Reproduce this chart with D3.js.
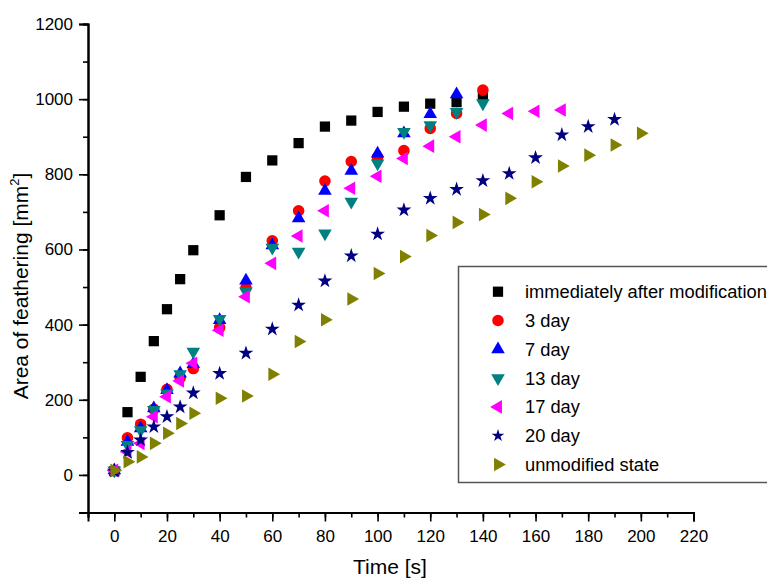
<!DOCTYPE html>
<html><head><meta charset="utf-8">
<script src="https://cdn.jsdelivr.net/npm/d3@7"></script>
<style>body{margin:0;background:#fff;} svg{display:block;font-family:"Liberation Sans",Arial,sans-serif;}</style>
</head><body>
<svg id="c" width="767" height="580"></svg>
<script>
// ---- data ----
const seriesNames = ["immediately after modification","3 day","7 day","13 day","17 day","20 day","unmodified state"];
const timesImmediate = [0,5,10,15,20,25,30,40,50,60,70,80,90,100,110,120,130,140];
const valuesImmediate = [10,167,261,356,441,521,598,691,793,837,883,927,943,966,980,988,992,1008];
const times3 = [0,5,10,15,20,25,30,40,50,60,70,80,90,100,110,120,130,140];
const values3 = [12,99,135,175,228,258,283,392,498,623,703,782,834,845,863,922,962,1024];
const times7 = [0,5,10,15,20,25,30,40,50,60,70,80,90,100,110,120,130];
const values7 = [12,88,124,177,226,270,295,412,517,611,683,756,809,855,909,960,1013];
const times13 = [0,5,10,15,20,25,30,40,50,60,70,80,90,100,110,120,130,140];
const values13 = [12,80,119,173,217,268,328,415,488,605,594,643,727,829,913,931,966,989];
const times17 = [0,5,10,15,20,25,30,40,50,60,70,80,90,100,110,120,130,140,150,160,170];
const values17 = [12,62,84,155,208,250,297,385,474,563,636,703,763,795,842,875,900,931,962,968,971];
const times20 = [0,5,10,15,20,25,30,40,50,60,70,80,90,100,110,120,130,140,150,160,170,180,190];
const values20 = [10,60,93,128,155,181,218,270,324,388,452,516,583,641,705,736,760,783,802,844,905,927,946];
const timesUnmod = [0,5,10,15,20,25,30,40,50,60,70,80,90,100,110,120,130,140,150,160,170,180,190,200];
const valuesUnmod = [12,35,48,84,111,137,164,204,210,268,355,413,468,536,581,637,672,693,736,780,822,851,878,909];
const xTicks = [0,20,40,60,80,100,120,140,160,180,200,220];
const yTicks = [0,200,400,600,800,1000,1200];

const seriesTimes = [timesImmediate,times3,times7,times13,times17,times20,timesUnmod];
const seriesValues = [valuesImmediate,values3,values7,values13,values17,values20,valuesUnmod];
const colors = ["#000000","#ff0000","#0000ff","#008080","#ff00ff","#000080","#808000"];
const shapes = [
  {type:d3.symbolSquare,size:105,rot:0},
  {type:d3.symbolCircle,size:105,rot:0},
  {type:d3.symbolTriangle,size:80,rot:0},
  {type:d3.symbolTriangle,size:80,rot:180},
  {type:d3.symbolTriangle,size:80,rot:-90},
  {type:d3.symbolStar,size:68,rot:0},
  {type:d3.symbolTriangle,size:80,rot:90}
];

const svg = d3.select("#c");
const x = d3.scaleLinear().domain([-10,220]).range([88,693.5]);
const y = d3.scaleLinear().domain([-100,1200]).range([512.5,24]);

// axes
const gx = svg.append("g").attr("transform","translate(0,512.5)");
gx.call(d3.axisBottom(x).tickValues(d3.range(-10,221,10)).tickSize(5).tickFormat(""));
const gx2 = svg.append("g").attr("transform","translate(0,512.5)");
gx2.call(d3.axisBottom(x).tickValues(xTicks).tickSize(9).tickPadding(8).tickFormat(d3.format("d")));
const gy = svg.append("g").attr("transform","translate(88,0)");
gy.call(d3.axisLeft(y).tickValues(d3.range(-100,1201,100)).tickSize(5).tickFormat(""));
const gy2 = svg.append("g").attr("transform","translate(88,0)");
gy2.call(d3.axisLeft(y).tickValues(yTicks).tickSize(9).tickPadding(6).tickFormat(d3.format("d")));
svg.selectAll("g .domain").attr("stroke","#000").attr("stroke-width",2);
svg.selectAll("g .tick line").attr("stroke","#000").attr("stroke-width",1.6);
svg.selectAll("g .tick text").attr("font-size",17).attr("fill","#000").attr("font-family","Liberation Sans, Arial, sans-serif");

// axis labels
svg.append("text").attr("x",390).attr("y",574).attr("text-anchor","middle")
  .attr("font-size",21).text("Time [s]");
const yl = svg.append("text").attr("transform","translate(28,286) rotate(-90)")
  .attr("text-anchor","middle").attr("font-size",21);
yl.append("tspan").text("Area of feathering [mm");
yl.append("tspan").attr("dy",-9).attr("font-size",13).text("2");
yl.append("tspan").attr("dy",9).text("]");

// marks
seriesTimes.forEach((ts,i)=>{
  const sym = d3.symbol().type(shapes[i].type).size(shapes[i].size);
  svg.append("g").selectAll("path").data(ts.map((t,j)=>[t,seriesValues[i][j]])).join("path")
    .attr("d",sym())
    .attr("transform",d=>`translate(${x(d[0])},${y(d[1])}) rotate(${shapes[i].rot})`)
    .attr("fill",colors[i]);
});

// legend
const lg = svg.append("g");
lg.append("rect").attr("x",458.5).attr("y",266.5).attr("width",330).attr("height",216)
  .attr("fill","#fff").attr("stroke","#555").attr("stroke-width",1.5);
seriesNames.forEach((n,i)=>{
  const cy = 291.7 + i*28.8;
  const sym = d3.symbol().type(shapes[i].type).size(i===5 ? 50 : shapes[i].size);
  lg.append("path").attr("d",sym()).attr("transform",`translate(498,${cy}) rotate(${shapes[i].rot})`).attr("fill",colors[i]);
  lg.append("text").attr("x",525).attr("y",cy+6.5).attr("font-size",18.3).text(n);
});
</script>
</body></html>
